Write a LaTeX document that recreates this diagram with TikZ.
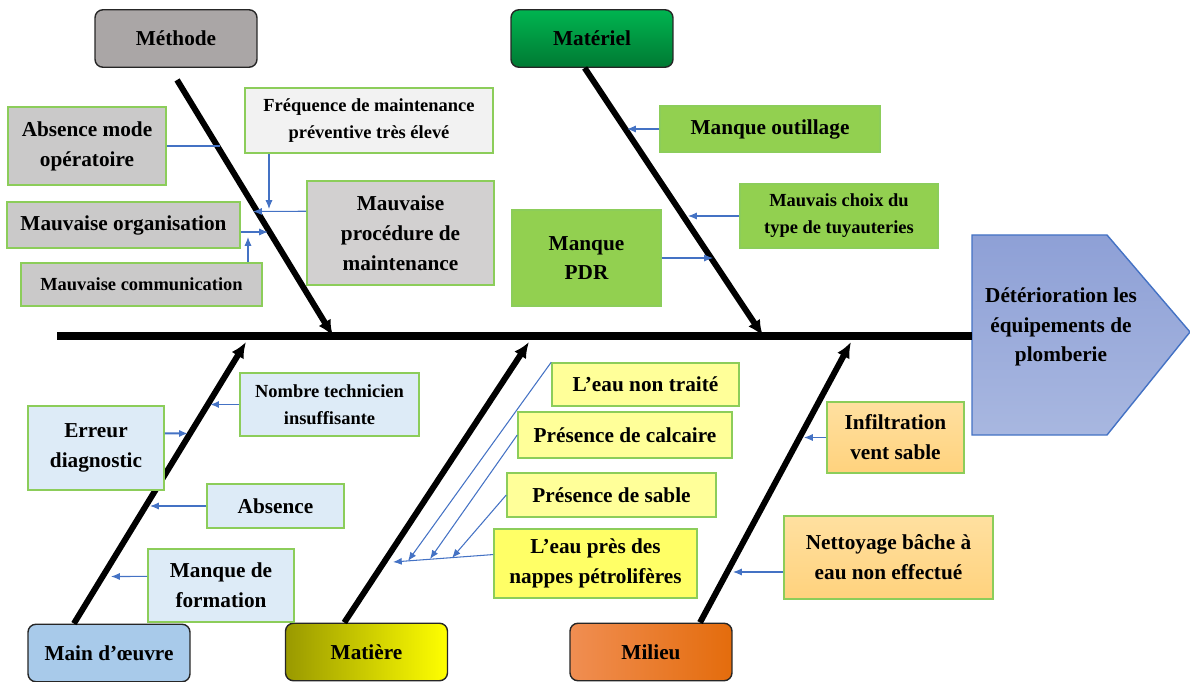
\documentclass[tikz,border=0pt]{standalone}
\usepackage{fontspec}
\setmainfont{Liberation Serif}
\usetikzlibrary{arrows.meta, calc}

\definecolor{bordvert}{RGB}{140,205,90}
\definecolor{fleche}{RGB}{68,114,196}
\definecolor{gmethode}{RGB}{170,166,166}
\definecolor{gcause}{RGB}{202,201,201}
\definecolor{gproc}{RGB}{210,208,208}
\definecolor{gfreq}{RGB}{242,242,242}
\definecolor{vhaut}{RGB}{0,180,80}
\definecolor{vbas}{RGB}{0,122,51}
\definecolor{vcause}{RGB}{146,208,80}
\definecolor{bmain}{RGB}{168,202,234}
\definecolor{bcause}{RGB}{221,235,247}
\definecolor{jcause}{RGB}{255,255,153}
\definecolor{jvif}{RGB}{255,255,102}
\definecolor{ogauche}{RGB}{240,142,82}
\definecolor{odroite}{RGB}{228,108,12}
\definecolor{ohaut}{RGB}{255,224,160}
\definecolor{obas}{RGB}{255,210,125}
\definecolor{thaut}{RGB}{142,160,214}
\definecolor{tbas}{RGB}{168,183,224}

\newcommand{\grand}{\fontsize{12.1}{17}\selectfont\bfseries}
\newcommand{\petit}{\fontsize{10.5}{15.3}\selectfont\bfseries}

\tikzset{
    categorie/.style={draw=black!85, line width=0.8pt, rounded corners=4.5pt,
        inner sep=0pt, minimum width=3.24cm, minimum height=1.15cm, font=\grand},
    cause/.style={draw=bordvert, line width=0.9pt, inner sep=0pt, align=center, font=\grand},
    lien/.style={fleche, line width=0.6pt, -{Latex[length=5pt,width=4pt]}},
    arete/.style={line width=3.4pt, -{Latex[length=9pt,width=8pt]}}
}

\begin{document}
\begin{tikzpicture}[x=0.02cm, y=-0.02cm]
    \useasboundingbox (0,0) rectangle (1190,682);

    % categories
    \node[categorie, fill=gmethode] (methode) at (176,38.5) {Méthode};
    \node[categorie, top color=vhaut, bottom color=vbas] (materiel) at (592,38.5) {Matériel};
    \node[categorie, fill=bmain] (maindoeuvre) at (109,653) {Main d’œuvre};
    \node[categorie, left color=yellow!60!black, right color=yellow] (matiere) at (366.5,652) {Matière};
    \node[categorie, left color=ogauche, right color=odroite] (milieu) at (651,652) {Milieu};

    % effect
    \draw[fleche, line width=0.8pt, top color=thaut, bottom color=tbas]
        (972,235) -- (1107,235) -- (1190,332) -- (1107,435) -- (972,435) -- cycle;
    \node[font=\grand, align=center] (effet) at (1061,327) {Détérioration les\\équipements de\\plomberie};

    % spine and bones
    \coordinate (queue) at (57,336);
    \coordinate (tete) at (972,336);
    \draw[line width=5pt] (queue) -- (tete);
    \coordinate (pme) at (333,336);
    \coordinate (pma) at (763,336);
    \coordinate (pmo) at (246,342);
    \coordinate (pmt) at (529,342);
    \coordinate (pmi) at (851,342);
    \draw[arete, shorten <=8pt] (methode.-102) -- (pme);
    \draw[arete] (materiel.-104) -- (pma);
    \draw[arete] (maindoeuvre.140) -- (pmo);
    \draw[arete] (matiere.127) -- (pmt);
    \draw[arete] (milieu.31) -- (pmi);

    % methode
    \node[cause, fill=gcause, minimum width=3.16cm, minimum height=1.56cm] (absmode) at (87,146) {Absence mode\\opératoire};
    \node[cause, fill=gfreq, font=\petit, minimum width=4.96cm, minimum height=1.3cm] (frequence) at (369,120.5) {Fréquence de maintenance\\préventive très élevé};
    \node[cause, fill=gproc, minimum width=3.74cm, minimum height=2.08cm] (procedure) at (400.5,233) {Mauvaise\\procédure de\\maintenance};
    \node[cause, fill=gcause, minimum width=4.66cm, minimum height=0.92cm] (organisation) at (123.5,225) {Mauvaise organisation};
    \node[cause, fill=gcause, font=\petit, minimum width=4.82cm, minimum height=0.86cm] (communication) at (141.5,284.5) {Mauvaise communication};
    \coordinate (c1) at (220,146);
    \coordinate (c2) at (269,209);
    \coordinate (c3) at (253,211.5);
    \coordinate (c4) at (268,232);
    \coordinate (c5) at (248,237);
    \draw[lien, -] (absmode.east) -- (c1);
    \draw[lien] (c2 |- frequence.south) -- (c2);
    \draw[lien] (procedure.167) -- (c3);
    \draw[lien] (c4 -| organisation.east) -- (c4);
    \draw[lien] (c5 |- communication.north) -- (c5);

    % materiel
    \node[cause, fill=vcause, minimum width=4.4cm, minimum height=0.92cm] (outillage) at (770,129) {Manque outillage};
    \node[cause, fill=vcause, font=\petit, minimum width=3.96cm, minimum height=1.28cm] (tuyaux) at (839,216) {Mauvais choix du\\type de tuyauteries};
    \node[cause, fill=vcause, minimum width=2.98cm, minimum height=1.92cm] (pdr) at (586.5,258) {Manque\\PDR};
    \coordinate (d1) at (627,129);
    \coordinate (d2) at (688,216);
    \coordinate (d3) at (713,258);
    \draw[lien] (outillage.west) -- (d1);
    \draw[lien] (tuyaux.west) -- (d2);
    \draw[lien] (pdr.east) -- (d3);

    % main d'oeuvre
    \node[cause, fill=bcause, font=\petit, minimum width=3.58cm, minimum height=1.26cm] (technicien) at (329.5,404.5) {Nombre technicien\\insuffisante};
    \node[cause, fill=bcause, minimum width=2.72cm, minimum height=1.68cm] (erreur) at (96,448) {Erreur\\diagnostic};
    \node[cause, fill=bcause, minimum width=2.74cm, minimum height=0.88cm] (absence) at (275.5,506) {Absence};
    \node[cause, fill=bcause, minimum width=2.92cm, minimum height=1.46cm] (formation) at (221,585.5) {Manque de\\formation};
    \coordinate (e1) at (210,404.5);
    \coordinate (e2) at (188,433.5);
    \coordinate (e3) at (150,506);
    \coordinate (e4) at (111,576.5);
    \draw[lien, line width=1.1pt] (technicien.west) -- (e1);
    \draw[lien, line width=1.1pt] (erreur.12) -- (e2);
    \draw[lien] (absence.west) -- (e3);
    \draw[lien] (formation.173) -- (e4);

    % matiere
    \node[cause, fill=jcause, minimum width=3.74cm, minimum height=0.86cm] (eaunon) at (645.5,384.5) {L’eau non traité};
    \node[cause, fill=jcause, minimum width=4.28cm, minimum height=0.92cm] (calcaire) at (625,435) {Présence de calcaire};
    \node[cause, fill=jcause, minimum width=4.18cm, minimum height=0.88cm] (sable) at (611.5,495) {Présence de sable};
    \node[cause, fill=jvif, minimum width=4.06cm, minimum height=1.38cm] (nappes) at (595.5,563.5) {L’eau près des\\nappes pétrolifères};
    \coordinate (f1) at (408,561);
    \coordinate (f2) at (430,559);
    \coordinate (f3) at (452,558);
    \coordinate (f4) at (393,562);
    \draw[lien] (eaunon.north west) -- (f1);
    \draw[lien] (calcaire.west) -- (f2);
    \draw[lien] (sable.west) -- (f3);
    \draw[lien] (nappes.175) -- (f4);

    % milieu
    \node[cause, top color=ohaut, bottom color=obas, minimum width=2.74cm, minimum height=1.42cm] (infiltration) at (895.5,437.5) {Infiltration\\vent sable};
    \node[cause, top color=ohaut, bottom color=obas, minimum width=4.18cm, minimum height=1.66cm] (nettoyage) at (888.5,557.5) {Nettoyage bâche à\\eau non effectué};
    \coordinate (g1) at (804,437.5);
    \coordinate (g2) at (733,572);
    \draw[lien] (infiltration.west) -- (g1);
    \draw[lien] (g2 -| nettoyage.west) -- (g2);
\end{tikzpicture}
\end{document}
